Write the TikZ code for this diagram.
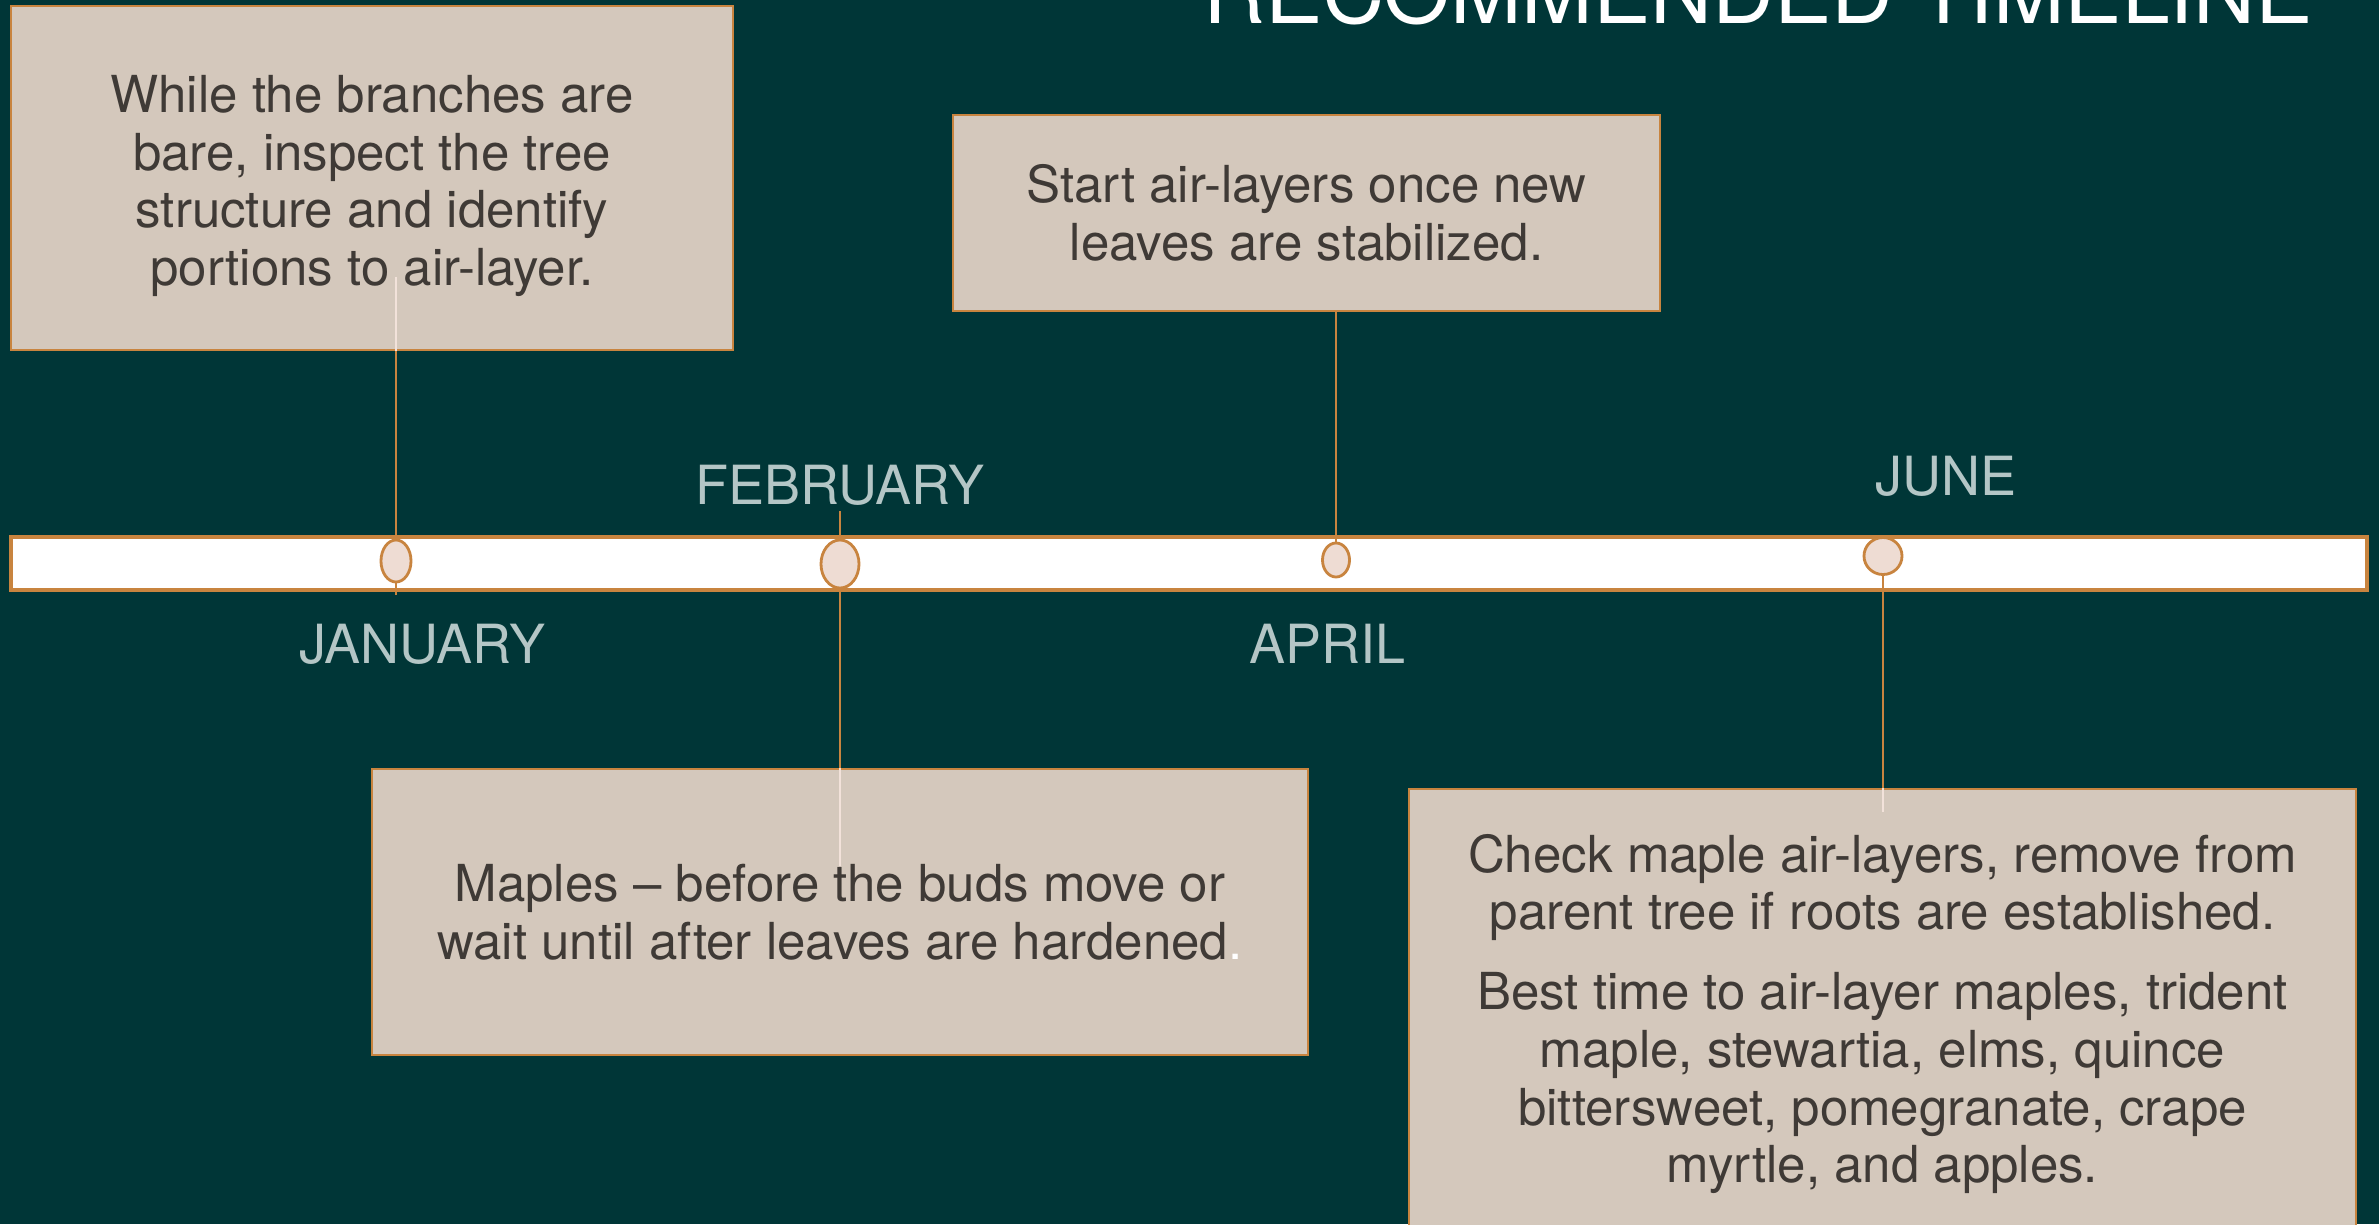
\documentclass[tikz,border=0pt]{standalone}
\usepackage{xcolor}
\usepackage{fontspec}
\usepackage{tikz}
\usetikzlibrary{positioning}
\usetikzlibrary{shapes.geometric}

\setmainfont{TeX Gyre Heros}

\definecolor{bgteal}{HTML}{003637}
\definecolor{card}{HTML}{D4C8BC}
\definecolor{edge}{HTML}{C8843F}
\definecolor{ink}{HTML}{3F3A36}
\definecolor{dotfill}{HTML}{EEDCD3}
\definecolor{monthgray}{HTML}{B4C6C6}
\definecolor{paleline}{HTML}{F2E2DA}

\newcommand{\notefont}{\fontsize{14.5}{16.4}\selectfont}
\newcommand{\monthfont}{\fontsize{15.35}{18}\selectfont}
\newcommand{\titlefont}{\fontsize{24.4}{28}\selectfont}

\begin{document}
\begin{tikzpicture}[x=0.01cm,y=-0.01cm,
    note/.style={draw=edge,fill=card,line width=0.6pt,text=ink,font=\notefont,align=center,inner sep=0pt},
    dot/.style={ellipse,draw=edge,fill=dotfill,line width=0.8pt,inner sep=0pt},
    month/.style={text=monthgray,font=\monthfont,anchor=base,inner sep=0pt},
    link/.style={draw=edge,line width=0.5pt},
    inlink/.style={draw=paleline,line width=0.5pt}]
      \useasboundingbox (0,0) rectangle (2379,1224);
      \fill[bgteal] (0,0) rectangle (2379,1224);

      \node[text=white,font=\titlefont,anchor=base,inner sep=0pt] (title) at (1758,23) {RECOMMENDED TIMELINE};

      %%%%%%%%%%%%%%%%%%%%%%%%%%%%%%%%%%%%%%%%%%%%%%%%%%%%%%%%%%%%%%%%%%%%%%%%%%
      %%% BEGIN: NOTES.
      %%%%%%%%%%%%%%%%%%%%%%%%%%%%%%%%%%%%%%%%%%%%%%%%%%%%%%%%%%%%%%%%%%%%%%%%%%
      \node[note,minimum width=7.22cm,minimum height=3.44cm] (inspect) at (372,178)
        {\rule{0pt}{0.53cm}While the branches are\\bare, inspect the tree\\structure and identify\\portions to air-layer.};
      \node[note,minimum width=7.07cm,minimum height=1.96cm] (start) at (1306.5,213)
        {Start air-layers once new\\leaves are stabilized.};
      \node[note,minimum width=9.36cm,minimum height=2.86cm] (maples) at (840,912)
        {Maples -- before the buds move or\\wait until after leaves are hardened{\color{white}.}};
      \node[note,minimum width=9.47cm,minimum height=4.50cm] (check) at (1882.5,1014)
        {Check maple air-layers, remove from\\parent tree if roots are established.\\[0.22cm]
         Best time to air-layer maples, trident\\maple, stewartia, elms, quince\\bittersweet, pomegranate, crape\\myrtle, and apples.};
      %%%%%%%%%%%%%%%%%%%%%%%%%%%%%%%%%%%%%%%%%%%%%%%%%%%%%%%%%%%%%%%%%%%%%%%%%%
      %%% END: NOTES.
      %%%%%%%%%%%%%%%%%%%%%%%%%%%%%%%%%%%%%%%%%%%%%%%%%%%%%%%%%%%%%%%%%%%%%%%%%%

      %%%%%%%%%%%%%%%%%%%%%%%%%%%%%%%%%%%%%%%%%%%%%%%%%%%%%%%%%%%%%%%%%%%%%%%%%%
      %%% BEGIN: TIMELINE.
      %%%%%%%%%%%%%%%%%%%%%%%%%%%%%%%%%%%%%%%%%%%%%%%%%%%%%%%%%%%%%%%%%%%%%%%%%%
      \draw[draw=edge,fill=white,line width=1pt] (11,537) rectangle (2367,590);

      % Month dots.
      \foreach \name/\x/\y/\w/\h in {jandot/396/561/0.30/0.42, febdot/840/564/0.38/0.48,
                                     aprdot/1336/560/0.27/0.34, jundot/1883/556/0.38/0.37}{
        \node[dot,minimum width=\w cm,minimum height=\h cm] (\name) at (\x,\y) {};
      }

      % Month labels.
      \node[month] (jan) at (422,663) {JANUARY};
      \node[month] (feb) at (840,504) {FEBRUARY};
      \node[month] (apr) at (1327,663) {APRIL};
      \node[month] (jun) at (1946,495) {JUNE};

      % Connectors.
      \coordinate (janend) at (396,595);
      \coordinate (febtop) at (840,511);
      \draw[link] (inspect.south -| jandot) -- (jandot.north);
      \draw[link] (jandot.south) -- (janend);
      \draw[link] (febtop) -- (febdot.north);
      \draw[link] (febdot.south) -- (maples.north -| febdot);
      \draw[link] (start.south -| aprdot) -- (aprdot.north);
      \draw[link] (jundot.south) -- (check.north -| jundot);

      % Pale ends inside the notes.
      \draw[inlink] (inspect.south -| jandot) -- ++(0,-74);
      \draw[inlink] (maples.north -| febdot) -- ++(0,98);
      \draw[inlink] (check.north -| jundot) -- ++(0,24);
      %%%%%%%%%%%%%%%%%%%%%%%%%%%%%%%%%%%%%%%%%%%%%%%%%%%%%%%%%%%%%%%%%%%%%%%%%%
      %%% END: TIMELINE.
      %%%%%%%%%%%%%%%%%%%%%%%%%%%%%%%%%%%%%%%%%%%%%%%%%%%%%%%%%%%%%%%%%%%%%%%%%%
\end{tikzpicture}
\end{document}
